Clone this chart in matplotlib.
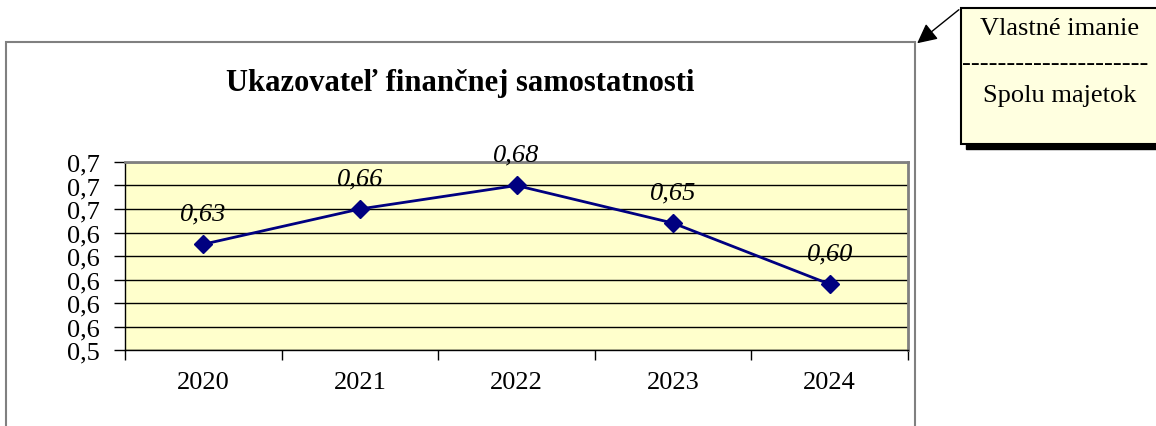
import matplotlib.pyplot as plt
from matplotlib.patches import Rectangle, FancyArrowPatch
from matplotlib.ticker import FixedLocator

years = ['2020', '2021', '2022', '2023', '2024']
ratio = [0.63, 0.66, 0.68, 0.648, 0.596]
ratio_labels = ['0,63', '0,66', '0,68', '0,65', '0,60']
yticks = [0.54, 0.56, 0.58, 0.60, 0.62, 0.64, 0.66, 0.68, 0.70]

plt.rcParams['font.family'] = ['Liberation Serif', 'DejaVu Serif']

W, H = 1156, 427
fig = plt.figure(figsize=(W / 100, H / 100), dpi=100)


def fx(px):
    return px / W


def fy(py):
    return 1 - py / H


# outer chart frame
fig.patches.append(Rectangle((fx(6), fy(440)), fx(915) - fx(6), fy(43) - fy(440),
                             transform=fig.transFigure, fill=False,
                             edgecolor='#808080', lw=1.5))

fig.text(fx(460), fy(83), 'Ukazovateľ finančnej samostatnosti', ha='center', va='center',
         fontsize=22, fontweight='bold')

ax = fig.add_axes([fx(125), fy(351), fx(908) - fx(125), fy(163) - fy(351)])
ax.set_facecolor('#FFFFCC')
x = list(range(len(years)))
ax.plot(x, ratio, color='#000080', lw=2, marker='D', markersize=9.5, zorder=3)
for xi, v, t in zip(x, ratio, ratio_labels):
    ax.annotate(t, (xi, v), xytext=(0, 31), textcoords='offset pixels',
                ha='center', va='center', fontsize=19, style='italic')

ax.set_xlim(-0.5, len(years) - 0.5)
ax.set_ylim(0.54, 0.70)
ax.set_yticks(yticks)
ax.set_yticklabels([f'{round(v, 1):.1f}'.replace('.', ',') for v in yticks], fontsize=19)
ax.yaxis.grid(True, color='#000000', lw=1)
ax.set_axisbelow(True)
ax.tick_params(axis='y', length=8, width=1, pad=10)

ax.set_xticks(x)
ax.set_xticklabels(years, fontsize=19)
ax.tick_params(axis='x', which='major', length=0, pad=15)
ax.xaxis.set_minor_locator(FixedLocator([i - 0.5 for i in range(len(years) + 1)]))
ax.tick_params(axis='x', which='minor', length=7, width=1)

for s in ['left', 'bottom']:
    ax.spines[s].set_color('#000000')
    ax.spines[s].set_linewidth(1)
for s in ['top', 'right']:
    ax.spines[s].set_color('#808080')
    ax.spines[s].set_linewidth(2)

# callout box with shadow
fig.patches.append(Rectangle((fx(966), fy(150)), fx(1170) - fx(966), fy(14) - fy(150),
                             transform=fig.transFigure, facecolor='black',
                             edgecolor='black', lw=1))
fig.patches.append(Rectangle((fx(961), fy(145)), fx(1165) - fx(961), fy(9) - fy(145),
                             transform=fig.transFigure, facecolor='#FFFFE0',
                             edgecolor='black', lw=1.5))
fig.text(fx(1060), fy(29), 'Vlastné imanie', ha='center', va='center', fontsize=19)
fig.text(fx(1055), fy(64), '-' * 21, ha='center', va='center', fontsize=19)
fig.text(fx(1060), fy(96), 'Spolu majetok', ha='center', va='center', fontsize=19)

fig.patches.append(FancyArrowPatch((fx(961), fy(9)), (fx(915), fy(46)),
                                   transform=fig.transFigure, arrowstyle='-|>',
                                   mutation_scale=30, color='black', lw=1))

fig.savefig('out.png', dpi=100)
